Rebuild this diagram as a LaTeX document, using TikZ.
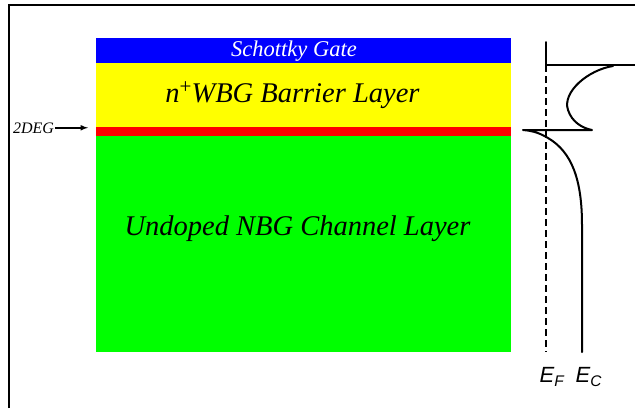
\documentclass[tikz,border=0pt]{standalone}
\usepackage{fontspec}
\setmainfont{Liberation Serif}
\setsansfont{Liberation Sans}
\usetikzlibrary{positioning}
\definecolor{gateblue}{RGB}{0,0,255}
\definecolor{barrieryellow}{RGB}{255,255,0}
\definecolor{degred}{RGB}{255,0,0}
\definecolor{channelgreen}{RGB}{0,255,0}
\tikzset{
  layer/.style={anchor=north west, inner sep=0pt, minimum width=415pt},
  layertext/.style={anchor=base, inner sep=0pt, font=\itshape\fontsize{28.5}{30}\selectfont},
  gatetext/.style={anchor=base, inner sep=0pt, text=white, font=\itshape\fontsize{22.5}{24}\selectfont},
  elabel/.style={inner sep=0pt, font=\sffamily\itshape\fontsize{22}{24}\selectfont},
  band/.style={line width=2pt, line cap=round, line join=round},
  fermi/.style={line width=1.8pt, dash pattern=on 7pt off 4pt}
}
\begin{document}
\begin{tikzpicture}[x=1pt,y=-1pt]
\useasboundingbox (0,0) rectangle (635,408);
% frame
\draw[line width=2pt] (9,408) -- (9,5) -- (635,5);
% layer stack
\node[layer, fill=gateblue, minimum height=25pt] (gate) at (96,38) {};
\node[layer, fill=barrieryellow, minimum height=64pt] (barrier) at (96,63) {};
\node[layer, fill=degred, minimum height=9pt] (deg) at (96,127) {};
\node[layer, fill=channelgreen, minimum height=216pt] (channel) at (96,136) {};
\node[gatetext] (gatelbl) at (294,56) {Schottky Gate};
\node[layertext] (barrierlbl) at (292.5,102) {n\raisebox{9pt}{\upshape\fontsize{21}{21}\selectfont +}WBG Barrier Layer};
\node[layertext] (channellbl) at (297.5,235) {Undoped NBG Channel Layer};
% 2DEG marker
\node[anchor=base, inner sep=0pt, font=\itshape\fontsize{16}{18}\selectfont] (deglbl) at (33.5,133) {2DEG};
\draw[-latex, line width=1.5pt, shorten <=1pt, shorten >=8pt] (deglbl.east) -- (deglbl.east -| deg.west);
% band diagram
\draw[band] (546,42) -- (546,65);
\draw[fermi] (546,65) -- (546,352);
\draw[band] (546,65) -- (635,65);
\draw[band] (613,66) .. controls (588,70) and (562,92) .. (568,110)
  .. controls (572,122) and (582,128) .. (592,130) -- (523,130)
  .. controls (535,131) and (541,134) .. (548,138)
  .. controls (572,152) and (582,180) .. (582,225) -- (582,352);
\node[elabel] (ef) at (552,377) {E\textsubscript{F}};
\node[elabel, right=11pt of ef] (ec) {E\textsubscript{C}};
\end{tikzpicture}
\end{document}
